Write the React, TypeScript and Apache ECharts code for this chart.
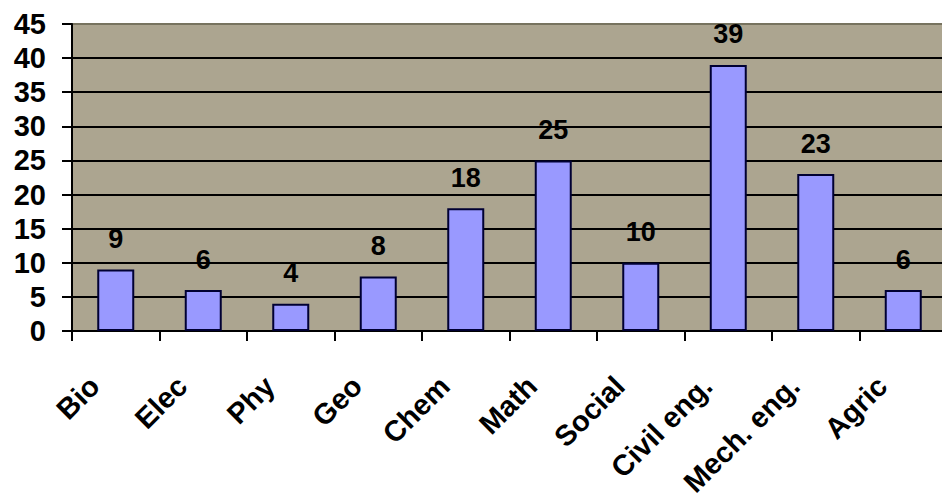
import React, { useEffect, useRef } from "react";
import * as echarts from "echarts";

const categories = ["Bio", "Elec", "Phy", "Geo", "Chem", "Math", "Social", "Civil eng.", "Mech. eng.", "Agric"];
const values = [9, 6, 4, 8, 18, 25, 10, 39, 23, 6];

const FONT = "Liberation Sans, Arial, sans-serif";

export default function App() {
  const ref = useRef<HTMLDivElement>(null);
  useEffect(() => {
    const chart = echarts.init(ref.current!, null, { renderer: "svg" });
    chart.setOption({
      animation: false,
      backgroundColor: "#ffffff",
      grid: { left: 72, top: 24, width: 875, height: 307, containLabel: false, outerBoundsMode: "none" },
      xAxis: {
        type: "category",
        data: categories,
        axisLine: { lineStyle: { color: "#000", width: 2 } },
        axisTick: { show: true, length: 10, lineStyle: { color: "#000", width: 2 } },
        axisLabel: {
          rotate: 45,
          interval: 0,
          margin: 29,
          padding: [0, 30, 0, 0],
          color: "#000",
          fontFamily: FONT,
          fontWeight: "bold",
          fontSize: 29,
        },
      },
      yAxis: {
        type: "value",
        min: 0,
        max: 45,
        interval: 5,
        axisLine: { show: true, lineStyle: { color: "#000", width: 2 } },
        axisTick: { show: true, length: 10, lineStyle: { color: "#000", width: 2 } },
        splitLine: {
          show: true,
          lineStyle: {
            color: ["#000", "#000", "#000", "#000", "#000", "#000", "#000", "#000", "#000", "#77735f"],
            width: 2,
          },
        },
        splitArea: { show: true, areaStyle: { color: ["#aca590", "#aca590"] } },
        axisLabel: {
          margin: 26,
          color: "#000",
          fontFamily: FONT,
          fontWeight: "bold",
          fontSize: 29,
        },
      },
      series: [
        {
          type: "bar",
          data: values,
          barWidth: 37,
          itemStyle: { color: "#9999ff", borderColor: "#000033", borderWidth: 2 },
          label: {
            show: true,
            position: "top",
            distance: 17,
            color: "#000",
            fontFamily: FONT,
            fontWeight: "bold",
            fontSize: 27,
          },
        },
      ],
    });
    return () => chart.dispose();
  }, []);
  return <div ref={ref} style={{ position: "fixed", left: 0, top: 0, width: 942, height: 497 }} />;
}
